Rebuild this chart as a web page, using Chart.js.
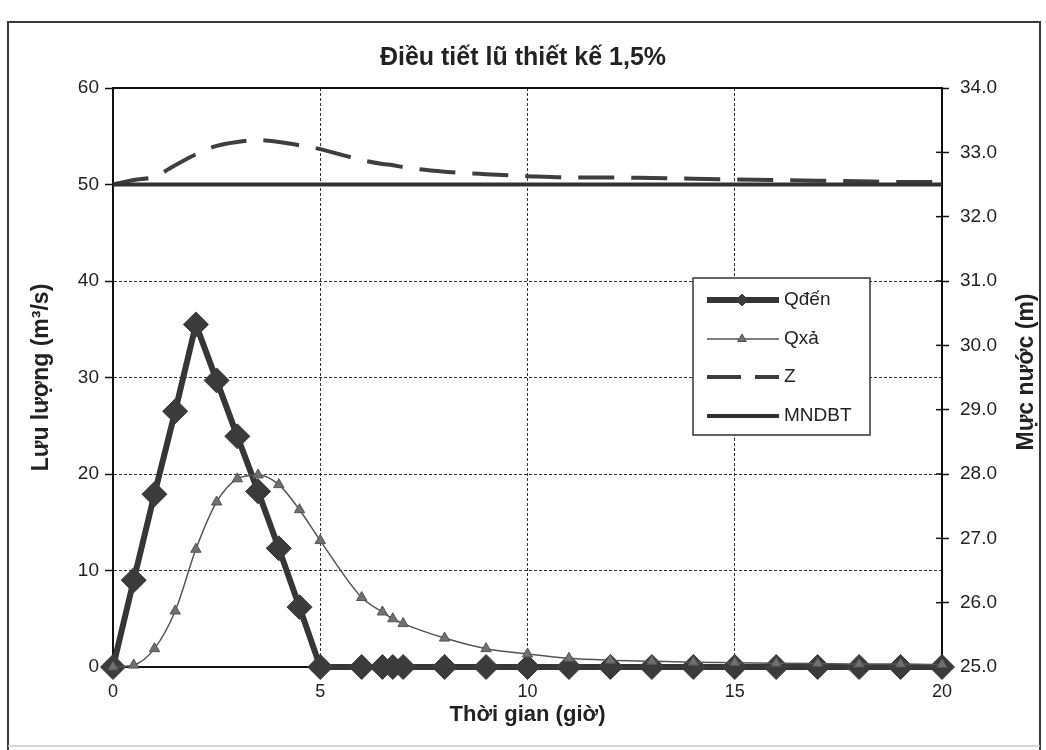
<!DOCTYPE html>
<html>
<head>
<meta charset="utf-8">
<script src="https://cdn.jsdelivr.net/npm/chart.js@4.4.1/dist/chart.umd.min.js"></script>
<style>
  html, body { margin: 0; padding: 0; background: #fff; }
  #wrap { position: relative; width: 1046px; height: 750px; }
</style>
</head>
<body>
<div id="wrap"><canvas id="dieutiet" width="1046" height="750"></canvas></div>
<script>
// so lieu doc tu bieu do
const times = [0, 0.5, 1, 1.5, 2, 2.5, 3, 3.5, 4, 4.5, 5, 6, 6.5, 6.75, 7, 8, 9, 10, 11, 12, 13, 14, 15, 16, 17, 18, 19, 20];
const qDen = [0, 9.0, 17.9, 26.5, 35.5, 29.7, 23.9, 18.2, 12.3, 6.2, 0, 0, 0, 0, 0, 0, 0, 0, 0, 0, 0, 0, 0, 0, 0, 0, 0, 0];
const qXa = [0, 0.2, 1.9, 5.8, 12.2, 17.1, 19.5, 19.9, 18.9, 16.3, 13.1, 7.2, 5.7, 5.0, 4.5, 3.0, 1.9, 1.35, 0.9, 0.7, 0.6, 0.5, 0.45, 0.4, 0.35, 0.3, 0.3, 0.25];
const zLevel = [32.5, 32.57, 32.62, 32.8, 32.97, 33.1, 33.16, 33.19, 33.16, 33.11, 33.05, 32.88, 32.82, 32.8, 32.77, 32.7, 32.66, 32.63, 32.61, 32.61, 32.6, 32.59, 32.58, 32.57, 32.56, 32.55, 32.54, 32.54];
const mndbtTimes = [0, 20];
const mndbtLevels = [32.5, 32.5];
const xTicks = [0, 5, 10, 15, 20];
const legendNames = ['Qđến', 'Qxả', 'Z', 'MNDBT'];

const pts = (xs, ys) => xs.map((x, i) => ({ x: x, y: ys[i] }));
const FONT = '"Liberation Sans", Arial, sans-serif';

// khung ngoai + o ve
const framePlugin = {
  id: 'frame',
  beforeDraw(chart) {
    const ctx = chart.ctx;
    ctx.save();
    ctx.fillStyle = '#fff';
    ctx.fillRect(0, 0, chart.width, chart.height);
    ctx.strokeStyle = '#3a3a3a';
    ctx.lineWidth = 2;
    ctx.beginPath();
    ctx.moveTo(8, 750);
    ctx.lineTo(8, 22);
    ctx.lineTo(1040, 22);
    ctx.lineTo(1040, 750);
    ctx.stroke();
    ctx.strokeStyle = '#c8c8c8';
    ctx.lineWidth = 1.5;
    ctx.beginPath();
    ctx.moveTo(8, 746);
    ctx.lineTo(1040, 746);
    ctx.stroke();
    ctx.restore();
  },
  beforeDatasetsDraw(chart) {
    const { ctx, chartArea: a } = chart;
    ctx.save();
    ctx.strokeStyle = '#111';
    ctx.lineWidth = 2;
    ctx.beginPath();
    ctx.moveTo(a.left, a.top);
    ctx.lineTo(a.right, a.top);
    ctx.stroke();
    // vach chia ben trong truc phai
    const y2 = chart.scales.y2;
    ctx.lineWidth = 1.5;
    y2.ticks.forEach(t => {
      const y = y2.getPixelForValue(t.value);
      ctx.beginPath();
      ctx.moveTo(a.right - 6, y);
      ctx.lineTo(a.right, y);
      ctx.stroke();
    });
    ctx.restore();
  },
  afterDraw(chart) {
    const ctx = chart.ctx;
    ctx.save();
    ctx.translate(1027, 372);
    ctx.rotate(-Math.PI / 2);
    ctx.font = 'bold 23px ' + FONT;
    ctx.fillStyle = '#222';
    ctx.textAlign = 'center';
    ctx.textBaseline = 'middle';
    ctx.fillText('Mực nước (m)', 0, 0);
    ctx.restore();
  }
};

// chu giai dat trong vung ve
const legendPlugin = {
  id: 'boxLegend',
  afterDatasetsDraw(chart) {
    const ctx = chart.ctx;
    const bx = 693, by = 278, bw = 177, bh = 157;
    ctx.save();
    ctx.fillStyle = '#fff';
    ctx.fillRect(bx, by, bw, bh);
    ctx.strokeStyle = '#333';
    ctx.lineWidth = 1.5;
    ctx.strokeRect(bx, by, bw, bh);
    const rows = [300, 339, 377, 416];
    chart.data.datasets.forEach((ds, i) => {
      const y = rows[i];
      ctx.save();
      ctx.strokeStyle = ds.borderColor;
      ctx.lineWidth = ds.borderWidth;
      ctx.setLineDash(i === 2 ? [34, 14] : []);
      ctx.beginPath();
      ctx.moveTo(707, y);
      ctx.lineTo(779, y);
      ctx.stroke();
      ctx.restore();
      if (ds.pointRadius > 0) {
        ctx.fillStyle = ds.pointBackgroundColor;
        ctx.strokeStyle = ds.pointBorderColor;
        ctx.lineWidth = 1;
        Chart.helpers.drawPoint(ctx, {
          pointStyle: ds.pointStyle, radius: i === 0 ? 6 : 5, rotation: 0, borderWidth: 1
        }, 742, y);
      }
      ctx.fillStyle = '#222';
      ctx.font = '19px ' + FONT;
      ctx.textBaseline = 'middle';
      ctx.fillText(legendNames[i], 784, y);
    });
    ctx.restore();
  }
};

const ctx = document.getElementById('dieutiet').getContext('2d');
new Chart(ctx, {
  type: 'line',
  data: {
    datasets: [
      {
        label: legendNames[0],
        data: pts(times, qDen),
        yAxisID: 'y',
        borderColor: '#363636',
        borderWidth: 6,
        pointStyle: 'rectRot',
        pointRadius: 12.5,
        pointBackgroundColor: '#3b3b3b',
        pointBorderColor: '#3b3b3b',
        pointBorderWidth: 1,
        order: 4,
        clip: 20
      },
      {
        label: legendNames[1],
        data: pts(times, qXa),
        yAxisID: 'y',
        borderColor: '#555',
        borderWidth: 1.5,
        pointStyle: 'triangle',
        pointRadius: 6,
        pointBackgroundColor: '#707070',
        pointBorderColor: '#555',
        pointBorderWidth: 1,
        cubicInterpolationMode: 'monotone',
        order: 3,
        clip: 20
      },
      {
        label: legendNames[2],
        data: pts(times, zLevel),
        yAxisID: 'y2',
        borderColor: '#3e3e3e',
        borderWidth: 4,
        borderDash: [36, 17],
        pointRadius: 0,
        cubicInterpolationMode: 'monotone',
        order: 2
      },
      {
        label: legendNames[3],
        data: pts(mndbtTimes, mndbtLevels),
        yAxisID: 'y2',
        borderColor: '#333',
        borderWidth: 4,
        pointRadius: 0,
        order: 1
      }
    ]
  },
  options: {
    responsive: false,
    animation: false,
    layout: { padding: 0 },
    plugins: {
      legend: { display: false },
      tooltip: { enabled: false },
      title: {
        display: true,
        text: 'Điều tiết lũ thiết kế 1,5%',
        color: '#222',
        font: { family: FONT, size: 25, weight: 'bold' },
        padding: { top: 43, bottom: 15 }
      }
    },
    scales: {
      x: {
        type: 'linear',
        min: 0,
        max: 20,
        afterBuildTicks: s => { s.ticks = xTicks.map(v => ({ value: v })); },
        ticks: { color: '#222', font: { family: FONT, size: 18 }, padding: 14, maxRotation: 0 },
        grid: { color: '#333', lineWidth: 1, drawTicks: false },
        border: { display: true, color: '#111', width: 2, dash: [3, 2] },
        title: {
          display: true,
          text: 'Thời gian (giờ)',
          color: '#222',
          font: { family: FONT, size: 22, weight: 'bold' },
          padding: { top: 0, bottom: 22 }
        },
        afterFit: s => { s.height = 83; }
      },
      y: {
        position: 'left',
        min: 0,
        max: 60,
        ticks: { stepSize: 10, color: '#222', font: { family: FONT, size: 19 }, padding: 6 },
        grid: { color: '#333', lineWidth: 1, tickLength: 8, tickColor: '#111', tickWidth: 1.5, tickBorderDash: [] },
        border: { display: true, color: '#111', width: 2, dash: [3, 2] },
        title: {
          display: true,
          text: 'Lưu lượng (m³/s)',
          color: '#222',
          font: { family: FONT, size: 23, weight: 'bold' },
          padding: { top: 28, bottom: 0 }
        },
        afterFit: s => { s.width = 113; }
      },
      y2: {
        position: 'right',
        min: 25,
        max: 34,
        ticks: { stepSize: 1, color: '#222', font: { family: FONT, size: 19 }, padding: 11, callback: v => v.toFixed(1) },
        grid: { drawOnChartArea: false, tickLength: 7, tickColor: '#111', tickWidth: 1.5 },
        border: { display: true, color: '#111', width: 2 },
        afterFit: s => { s.width = 104; }
      }
    }
  },
  plugins: [framePlugin, legendPlugin]
});
</script>
</body>
</html>
